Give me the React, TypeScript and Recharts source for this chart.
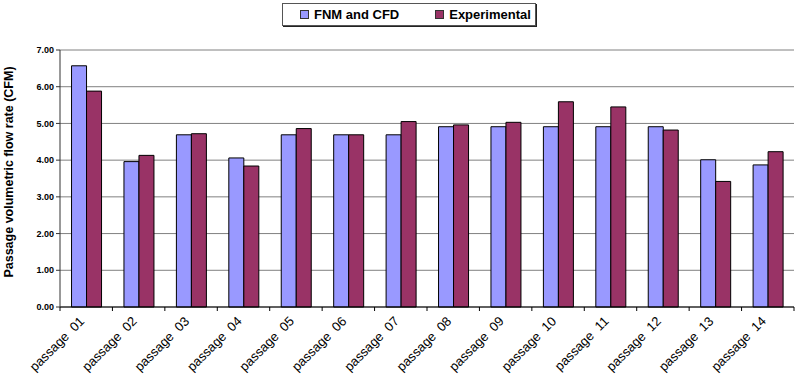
import { BarChart, Bar, XAxis, YAxis, CartesianGrid } from "recharts";

const passages = [
  "passage  01", "passage  02", "passage  03", "passage  04", "passage  05", "passage  06", "passage  07",
  "passage  08", "passage  09", "passage  10", "passage  11", "passage  12", "passage  13", "passage  14",
];
const fnmCfd = [6.57, 3.96, 4.69, 4.06, 4.69, 4.69, 4.69, 4.91, 4.91, 4.91, 4.91, 4.91, 4.01, 3.87];
const experimental = [5.88, 4.13, 4.72, 3.84, 4.86, 4.69, 5.05, 4.96, 5.03, 5.59, 5.45, 4.82, 3.42, 4.23];
const yTicks = [0, 1, 2, 3, 4, 5, 6, 7];

const data = passages.map((name, i) => ({ name, fnm: fnmCfd[i], exp: experimental[i] }));

const FONT = "Arial, 'Liberation Sans', sans-serif";
const BLUE = "#9999ff";
const PLUM = "#993366";
const PLOT_W = 734;
const HALF_BAND = PLOT_W / passages.length / 2;

const PassageTick = ({ x, y, payload, index }: any) => {
  const ax = x - 1;
  const ay = y + 15;
  return (
    <g>
      {/* tick marks sit between categories, like Excel */}
      <line x1={x - HALF_BAND} x2={x - HALF_BAND} y1={y} y2={y + 4} stroke="#000" />
      {index === passages.length - 1 && <line x1={x + HALF_BAND} x2={x + HALF_BAND} y1={y} y2={y + 4} stroke="#000" />}
      <text
        x={ax}
        y={ay}
        transform={`rotate(-45 ${ax} ${ay})`}
        textAnchor="end"
        fontFamily={FONT}
        fontSize={13}
        fill="#000"
        style={{ whiteSpace: "pre" }}
      >
        {payload.value}
      </text>
    </g>
  );
};

export default function App() {
  return (
    <div style={{ position: "absolute", left: 0, top: 0, width: 800, height: 386, background: "#fff" }}>
      <BarChart
        width={800}
        height={386}
        data={data}
        margin={{ top: 50, right: 6, bottom: 0, left: 0 }}
        barCategoryGap="22%"
        barGap={0}
      >
        <CartesianGrid vertical={false} stroke="#808080" />
        <XAxis
          dataKey="name"
          height={79}
          interval={0}
          tickLine={false}
          tickSize={0}
          tickMargin={0}
          axisLine={{ stroke: "#000" }}
          tick={<PassageTick />}
        />
        <YAxis
          domain={[0, 7]}
          ticks={yTicks}
          width={60}
          tickSize={4}
          tickMargin={2}
          tickFormatter={(v: number) => v.toFixed(2)}
          tick={{ fontFamily: FONT, fontSize: 9, fontWeight: "bold", fill: "#000" }}
          axisLine={{ stroke: "#333" }}
          tickLine={{ stroke: "#333" }}
        />
        <YAxis
          yAxisId="right"
          orientation="right"
          domain={[0, 7]}
          width={0}
          tick={false}
          tickLine={false}
          axisLine={{ stroke: "#aaa" }}
        />
        <Bar dataKey="fnm" name="FNM and CFD" fill={BLUE} stroke="#000" strokeWidth={1} isAnimationActive={false} />
        <Bar dataKey="exp" name="Experimental" fill={PLUM} stroke="#000" strokeWidth={1} isAnimationActive={false} />
      </BarChart>
      <svg width={30} height={386} style={{ position: "absolute", left: 0, top: 0 }}>
        <text
          x={13}
          y={172}
          transform="rotate(-90 13 172)"
          textAnchor="middle"
          fontFamily={FONT}
          fontSize={12.5}
          fontWeight="bold"
          fill="#000"
        >
          Passage volumetric flow rate (CFM)
        </text>
      </svg>
      <div
        style={{
          position: "absolute",
          left: 282,
          top: 3,
          width: 254,
          height: 23,
          border: "1px solid #555",
          boxShadow: "1px 1px 0 #222",
          fontFamily: FONT,
          fontSize: 13,
          fontWeight: "bold",
          display: "flex",
          alignItems: "center",
          boxSizing: "border-box",
        }}
      >
        <span style={{ display: "inline-block", width: 7, height: 7, background: BLUE, border: "1px solid #333", marginLeft: 17, marginRight: 5 }} />
        <span>FNM and CFD</span>
        <span style={{ display: "inline-block", width: 7, height: 7, background: PLUM, border: "1px solid #333", marginLeft: 36, marginRight: 5 }} />
        <span>Experimental</span>
      </div>
    </div>
  );
}
